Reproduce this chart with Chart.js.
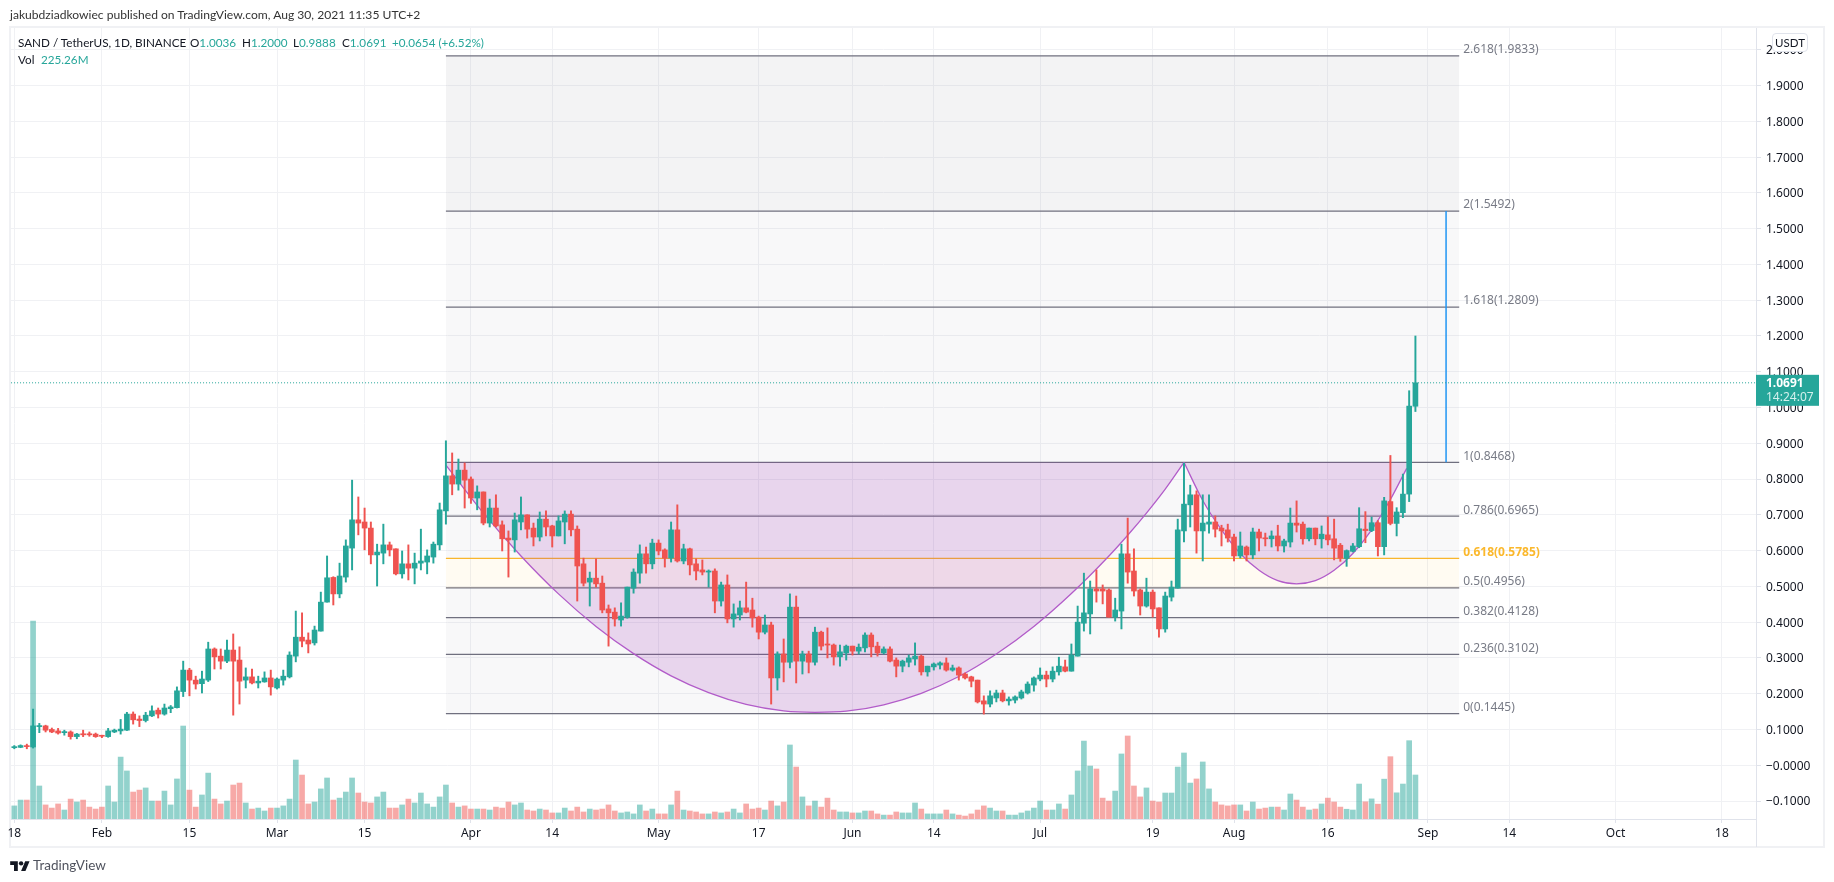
<!DOCTYPE html>
<html>
<head>
<meta charset="utf-8">
<title>SAND / TetherUS</title>
<script src="https://cdn.jsdelivr.net/npm/chart.js@4"></script>
<style>
  html, body { margin: 0; padding: 0; background: #fff; }
  body { width: 1834px; height: 882px; position: relative; overflow: hidden; font-family: Lato, sans-serif; color: #131722; }
  canvas { position: absolute; left: 0; top: 0; }
  .frame { position: absolute; left: 9px; top: 26px; width: 1812px; height: 818px; border: 2px solid #f0f1f4; }
  .axisline { position: absolute; left: 1756px; top: 819px; width: 1px; height: 28px; background: #e0e3eb; }
  .t { position: absolute; white-space: pre; font-size: 11.7px; line-height: 16px; }
  .up { color: #26a69a; }
  .usdt { position: absolute; left: 1772px; top: 33px; width: 34px; height: 17px; border: 1px solid #e0e3eb; border-radius: 4px; background: #fff; font-size: 11.5px; line-height: 17px; text-align: center; }
  .logo { position: absolute; left: 10px; top: 859px; }
</style>
</head>
<body>
<div class="frame"></div>
<canvas id="chart" width="1834" height="882"></canvas>
<div class="axisline"></div>
<div class="t" style="left:10px;top:7px;color:#333;font-size:12.1px;">jakubdziadkowiec published on TradingView.com, Aug 30, 2021 11:35 UTC+2</div>
<div class="t" style="left:18px;top:34px;">SAND / TetherUS, 1D, BINANCE</div>
<div class="t" style="left:190px;top:34px;">O<span class="up">1.0036</span></div>
<div class="t" style="left:242px;top:34px;">H<span class="up">1.2000</span></div>
<div class="t" style="left:293px;top:34px;">L<span class="up">0.9888</span></div>
<div class="t" style="left:342px;top:34px;">C<span class="up">1.0691</span></div>
<div class="t up" style="left:392px;top:34px;">+0.0654 (+6.52%)</div>
<div class="t" style="left:18px;top:51px;">Vol</div>
<div class="t up" style="left:41px;top:51px;">225.26M</div>
<div class="usdt">USDT</div>
<svg class="logo" width="20" height="12" viewBox="0 0 36 22"><path fill="#131722" d="M14 22H7V11H0V4h14v18zM28 22h-8l7.5-18h8L28 22z"/><circle fill="#131722" cx="20" cy="8" r="4"/></svg>
<div class="t" style="left:33px;top:857px;font-size:13.5px;color:#50535e;">TradingView</div>
<script>
// candles, one per day, first entry is 17 Jan 2021
const firstDay = -1;
const opens = [
  .045,.049,.050,.054,.051,.108,.110,.100,.096,.091,.093,.080,.088,.088,.087,.083,.080,.093,.096,.098,
  .143,.129,.125,.138,.154,.143,.158,.161,.206,.266,.238,.228,.238,.325,.305,.291,.322,.294,.238,.247,
  .230,.233,.244,.216,.238,.247,.305,.358,.350,.342,.375,.456,.525,.479,.526,.607,.686,.680,.663,.588,
  .593,.616,.605,.535,.563,.551,.565,.568,.582,.616,.711,.809,.786,.825,.800,.747,.764,.677,.719,.672,
  .635,.630,.680,.700,.663,.638,.688,.669,.641,.680,.702,.660,.563,.512,.523,.509,.437,.428,.406,.414,
  .495,.537,.591,.563,.621,.602,.579,.658,.571,.605,.563,.546,.540,.543,.459,.504,.409,.420,.440,.434,
  .414,.372,.392,.244,.311,.288,.442,.291,.311,.288,.372,.339,.336,.303,.314,.333,.319,.328,.364,.333,
  .314,.325,.294,.277,.288,.297,.305,.261,.275,.280,.286,.266,.272,.255,.247,.238,.180,.171,.188,.202,
  .180,.182,.188,.202,.224,.241,.252,.241,.261,.275,.263,.305,.397,.423,.493,.493,.490,.414,.431,.591,
  .543,.490,.445,.484,.440,.381,.470,.495,.655,.728,.756,.655,.674,.680,.663,.658,.638,.585,.610,.588,
  .652,.635,.633,.641,.613,.624,.677,.674,.633,.663,.633,.644,.633,.615,.578,.598,.611,.660,.656,.678,
  .611,.737,.676,.706,.758,1.0036
];
const highs = [
  .050,.055,.057,.059,.157,.117,.112,.104,.103,.098,.096,.089,.098,.093,.090,.084,.103,.101,.128,.148,
  .149,.138,.148,.166,.160,.171,.167,.219,.291,.271,.249,.263,.344,.328,.325,.350,.367,.331,.272,.269,
  .249,.261,.266,.244,.266,.317,.431,.426,.370,.389,.484,.585,.527,.565,.630,.797,.750,.719,.680,.618,
  .674,.624,.605,.599,.616,.593,.660,.602,.624,.733,.907,.873,.856,.845,.806,.781,.764,.744,.756,.683,
  .655,.705,.750,.700,.677,.708,.711,.671,.697,.711,.711,.669,.579,.540,.577,.529,.448,.440,.454,.498,
  .549,.616,.610,.632,.630,.605,.680,.728,.618,.607,.577,.574,.546,.549,.512,.532,.451,.459,.512,.467,
  .417,.420,.400,.317,.353,.479,.473,.319,.319,.386,.375,.384,.339,.336,.336,.333,.339,.370,.370,.344,
  .331,.331,.300,.294,.308,.342,.308,.277,.286,.289,.300,.280,.275,.258,.249,.238,.194,.208,.210,.210,
  .191,.194,.210,.233,.247,.272,.263,.275,.302,.294,.339,.445,.537,.515,.546,.504,.493,.467,.618,.691,
  .605,.493,.523,.490,.440,.484,.515,.688,.845,.783,.767,.756,.756,.697,.671,.674,.646,.652,.613,.663,
  .660,.649,.655,.671,.632,.719,.739,.680,.663,.663,.669,.694,.688,.620,.602,.620,.720,.709,.694,.684,
  .749,.866,.720,.814,1.047,1.2000
];
const lows = [
  .044,.046,.049,.046,.048,.091,.093,.091,.087,.084,.073,.074,.080,.081,.078,.077,.078,.091,.087,.097,
  .115,.108,.121,.136,.132,.140,.147,.160,.192,.194,.213,.202,.234,.269,.269,.287,.140,.171,.216,.227,
  .216,.232,.196,.213,.224,.244,.289,.331,.314,.336,.375,.456,.448,.468,.512,.546,.644,.602,.563,.501,
  .563,.585,.532,.523,.518,.507,.546,.535,.565,.602,.674,.756,.769,.719,.732,.714,.672,.666,.666,.599,
  .526,.596,.658,.635,.613,.627,.641,.610,.641,.619,.641,.459,.501,.445,.498,.426,.333,.389,.389,.411,
  .481,.509,.537,.549,.588,.554,.568,.568,.563,.532,.518,.532,.498,.426,.445,.398,.386,.406,.426,.386,
  .353,.367,.171,.210,.233,.272,.230,.255,.258,.280,.322,.300,.280,.277,.294,.308,.311,.317,.303,.305,
  .311,.289,.247,.261,.275,.280,.252,.249,.266,.269,.263,.263,.238,.241,.219,.174,.143,.163,.177,.177,
  .168,.174,.185,.199,.207,.236,.219,.233,.252,.261,.263,.305,.375,.367,.456,.451,.414,.403,.381,.509,
  .473,.420,.442,.414,.358,.372,.459,.495,.624,.666,.593,.571,.649,.638,.613,.624,.571,.579,.571,.577,
  .599,.613,.610,.599,.596,.610,.652,.618,.627,.616,.607,.616,.574,.570,.556,.596,.608,.622,.653,.585,
  .588,.672,.641,.692,.737,.9888
];
const closes = [
  .048,.052,.055,.052,.110,.110,.098,.093,.090,.094,.080,.087,.085,.085,.080,.081,.096,.098,.101,.143,
  .127,.125,.140,.152,.143,.160,.163,.208,.266,.238,.227,.241,.325,.303,.291,.322,.291,.235,.247,.230,
  .235,.244,.219,.241,.249,.308,.358,.347,.339,.378,.456,.524,.479,.529,.613,.686,.677,.663,.588,.596,
  .616,.602,.535,.563,.551,.565,.571,.585,.618,.714,.809,.786,.825,.797,.747,.764,.677,.719,.669,.633,
  .630,.686,.700,.660,.638,.688,.666,.641,.683,.702,.658,.557,.509,.523,.507,.434,.426,.409,.417,.498,
  .540,.591,.563,.621,.599,.579,.658,.571,.605,.560,.543,.540,.543,.459,.504,.409,.423,.440,.428,.412,
  .372,.392,.244,.311,.288,.442,.291,.311,.288,.372,.333,.336,.303,.317,.333,.319,.330,.364,.331,.314,
  .325,.291,.277,.291,.300,.305,.261,.277,.283,.286,.266,.272,.252,.244,.235,.177,.171,.194,.202,.180,
  .185,.191,.205,.227,.244,.252,.241,.263,.277,.263,.308,.400,.426,.493,.487,.487,.414,.434,.591,.540,
  .487,.445,.484,.437,.381,.473,.498,.658,.730,.756,.655,.677,.680,.660,.655,.635,.585,.613,.588,.652,
  .635,.633,.641,.613,.627,.677,.671,.633,.663,.633,.646,.630,.607,.579,.600,.613,.661,.656,.678,.611,
  .739,.676,.708,.758,1.004,1.0691
];
// volume in millions
const volumes = [
  133,67,97,97,1013,169,72,56,77,46,102,87,97,61,51,61,169,87,317,246,
  138,148,159,92,92,143,72,205,476,148,61,123,235,102,77,92,174,184,82,51,
  56,41,56,56,67,102,302,225,77,87,154,210,97,107,138,210,133,87,82,113,
  138,56,56,72,102,82,133,77,61,113,174,82,61,67,51,51,51,46,61,56,
  87,72,82,46,41,51,46,31,31,56,41,61,36,51,46,51,72,41,31,36,
  26,72,41,51,26,26,72,143,46,41,36,26,26,36,31,36,51,31,77,51,
  56,46,92,67,87,379,266,113,67,92,61,107,46,36,36,31,31,41,41,26,
  20,20,36,31,31,82,51,26,26,26,46,26,20,15,26,46,67,56,41,41,
  20,20,31,41,56,92,46,46,77,51,123,246,399,271,256,107,92,143,333,425,
  169,113,159,92,87,133,133,266,338,184,205,292,154,87,72,67,72,72,41,87,
  51,56,61,61,46,128,97,61,46,51,77,107,87,61,50,46,179,88,103,76,
  204,319,134,179,401,225.26
];

// x axis, day numbers counted from 18 Jan
const tickDays = [0,14,28,42,56,73,86,103,119,134,147,164,182,195,210,226,239,256,273];
const tickLabels = ['18','Feb','15','Mar','15','Apr','14','May','17','Jun','14','Jul','19','Aug','16','Sep','14','Oct','18'];

const priceTicks = [2,1.9,1.8,1.7,1.6,1.5,1.4,1.3,1.2,1.1,1,.9,.8,.7,.6,.5,.4,.3,.2,.1,0,-.1];
const priceTickLabels = ['2.0000','1.9000','1.8000','1.7000','1.6000','1.5000','1.4000','1.3000','1.2000','1.1000','1.0000','0.9000','0.8000','0.7000','0.6000','0.5000','0.4000','0.3000','0.2000','0.1000','\u22120.0000','\u22120.1000'];

// fib extension drawing
const fibRatios = ['2.618','2','1.618','1','0.786','0.618','0.5','0.382','0.236','0'];
const fibPrices = [1.9833,1.5492,1.2809,.8468,.6965,.5785,.4956,.4128,.3102,.1445];
const fibFills = ['rgba(120,123,134,.09)','rgba(120,123,134,.05)','rgba(120,123,134,.05)','rgba(120,123,134,.05)','rgba(120,123,134,.05)','rgba(255,184,0,.05)','rgba(120,123,134,.05)','rgba(120,123,134,.05)','rgba(120,123,134,.05)'];
const fibStart = 69, fibEnd = 231;
const targetDay = 228.9;

// cup and handle curves
const cupDays = [69,75,81,87,93,99,105,111,117,123,128,133,139,145,151,157,163,169,175,178,181,184,187];
const cupPrices = [.839,.705,.585,.479,.388,.312,.250,.203,.170,.152,.148,.151,.169,.201,.248,.311,.388,.480,.585,.643,.705,.772,.8468];
const handleDays = [187,190,193,196,199,202,205,208,211,214,217,220,222.6];
const handlePrices = [.8468,.740,.658,.592,.545,.516,.507,.516,.545,.592,.658,.743,.830];

const lastClose = 1.0691;
const countdown = '14:24:07';

const GREEN = '#26a69a', RED = '#ef5350', GRID = '#f0f1f4';
const FONT = '"Noto Sans", sans-serif';
const YELLOW = '#fbb82c';
const PURPLE = '#b25cc9';

const dayOf = i => i + firstDay;
const candleColor = opens.map((o, i) => closes[i] >= o ? GREEN : RED);
const volumeColor = opens.map((o, i) => closes[i] >= o ? 'rgba(38,166,154,.5)' : 'rgba(239,83,80,.5)');

const datasets = [];

// candles sit above the drawings
datasets.push({
  label: 'bodies', order: 2, barThickness: 5, minBarLength: 1, grouped: false,
  data: opens.map((o, i) => ({ x: dayOf(i), y: [o, closes[i]] })),
  backgroundColor: candleColor
});
datasets.push({
  label: 'wicks', order: 3, barThickness: 1.3, grouped: false,
  data: lows.map((l, i) => ({ x: dayOf(i), y: [l, highs[i]] })),
  backgroundColor: candleColor
});
datasets.push({
  label: 'volume', order: 9, barThickness: 5, grouped: false, yAxisID: 'yVol',
  data: volumes.map((v, i) => ({ x: dayOf(i), y: v })),
  backgroundColor: volumeColor
});

const line = (label, order, xs, ys, extra) => Object.assign({
  type: 'line', label, order, pointRadius: 0, borderWidth: 1, fill: false,
  data: xs.map((x, i) => ({ x, y: ys[i] }))
}, extra);

// fib levels and the bands between them
fibPrices.forEach((p, i) => {
  datasets.push(line('fib ' + fibRatios[i], 6, [fibStart, fibEnd], [p, p], {
    borderColor: fibRatios[i] === '0.618' ? YELLOW : '#70707f',
    borderWidth: 1.3,
    backgroundColor: fibFills[i],
    fill: i < fibFills.length ? { target: { value: fibPrices[i + 1] } } : false
  }));
});

datasets.push(line('cup', 4, cupDays, cupPrices, {
  borderColor: PURPLE, borderWidth: 1.3, cubicInterpolationMode: 'monotone',
  backgroundColor: 'rgba(156,39,176,.17)', fill: { target: { value: .8468 } }
}));
datasets.push(line('handle', 4, handleDays, handlePrices, {
  borderColor: PURPLE, borderWidth: 1.3, cubicInterpolationMode: 'monotone',
  backgroundColor: 'rgba(156,39,176,.17)', fill: { target: { value: .8468 } }
}));

datasets.push(line('target', 4, [targetDay, targetDay], [.8468, 1.5492], { borderColor: '#2196f3', borderWidth: 1.5 }));
datasets.push(line('last', 0, [-1, 279], [lastClose, lastClose], { borderColor: GREEN, borderDash: [1, 2] }));

const overlayText = {
  id: 'overlayText',
  afterDraw(chart) {
    const { ctx, scales } = chart;
    ctx.save();
    // fib labels sit just above their level
    ctx.textAlign = 'left';
    ctx.textBaseline = 'bottom';
    fibPrices.forEach((p, i) => {
      const golden = fibRatios[i] === '0.618';
      ctx.font = (golden ? 'bold ' : '') + '12px ' + FONT;
      ctx.fillStyle = golden ? YELLOW : '#787b86';
      ctx.fillText(fibRatios[i] + '(' + p.toFixed(4) + ')', scales.x.getPixelForValue(fibEnd) + 4, scales.y.getPixelForValue(p));
    });
    // price tag on the axis
    const y = scales.y.getPixelForValue(lastClose);
    const left = scales.y.left;
    ctx.fillStyle = GREEN;
    ctx.fillRect(left, y - 8, 63, 31);
    ctx.fillStyle = '#fff';
    ctx.textBaseline = 'middle';
    ctx.font = 'bold 12px ' + FONT;
    ctx.fillText(lastClose.toFixed(4), left + 10, y + 1);
    ctx.font = '12px ' + FONT;
    ctx.fillStyle = '#d4f0ed';
    ctx.fillText(countdown, left + 10, y + 15);
    ctx.restore();
  }
};

new Chart(document.getElementById('chart'), {
  type: 'bar',
  data: { datasets },
  plugins: [overlayText],
  options: {
    responsive: false,
    animation: false,
    devicePixelRatio: 1,
    layout: { padding: { left: 11, top: 28, right: 10, bottom: 35 } },
    plugins: { legend: { display: false }, tooltip: { enabled: false } },
    scales: {
      x: {
        type: 'linear', min: -.53, max: 278.45, offset: false,
        grid: { offset: false, color: GRID, tickColor: '#e0e3eb', tickLength: 4 },
        border: { color: '#e0e3eb' },
        afterBuildTicks: s => { s.ticks = tickDays.map(value => ({ value })); },
        afterFit: s => { s.height = 28; },
        ticks: {
          autoSkip: false, maxRotation: 0, padding: 3, color: '#131722',
          font: { family: FONT, size: 12 },
          callback: v => tickLabels[tickDays.indexOf(v)]
        }
      },
      y: {
        position: 'right', min: -.1503, max: 2.061,
        grid: { color: GRID, tickColor: '#e0e3eb', tickLength: 5 },
        border: { color: '#e0e3eb' },
        afterBuildTicks: s => { s.ticks = priceTicks.map(value => ({ value })); },
        afterFit: s => { s.width = 68; },
        ticks: {
          autoSkip: false, padding: 5, labelOffset: 1, color: '#131722',
          font: { family: FONT, size: 12 },
          callback: v => priceTickLabels[priceTicks.indexOf(v)]
        }
      },
      yVol: { display: false, min: 0, max: 4050 }
    }
  }
});
</script>
</body>
</html>
